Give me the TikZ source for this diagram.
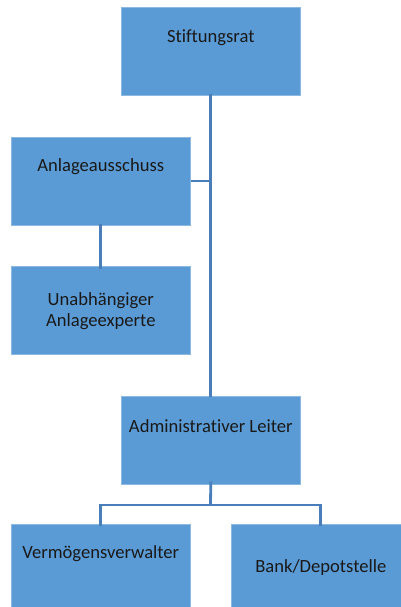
\documentclass[tikz,border=0pt]{standalone}
\usepackage{fontspec}
\setmainfont{Carlito}[Ligatures=NoCommon]
\usetikzlibrary{calc}
\definecolor{boxfill}{HTML}{5B9BD5}
\definecolor{linkcol}{HTML}{4A7EBB}
\begin{document}
\begin{tikzpicture}[x=1pt,y=-1pt,
  orgbox/.style={rectangle,fill=boxfill,draw=boxfill!70!white,line width=0.6pt,minimum width=179pt,minimum height=88pt,inner sep=0pt,anchor=north west},
  lbl/.style={font=\fontsize{18.6}{21}\selectfont,align=center,text=black!90,inner sep=0pt},
  link/.style={draw=linkcol,line width=2.8pt}]
\useasboundingbox (0,0) rectangle (401,607);
\clip (0,0) rectangle (401,607);
\node[orgbox] (sr) at (121,7) {};
\node[orgbox] (aa) at (11,137) {};
\node[orgbox] (ue) at (11,266) {};
\node[orgbox] (al) at (121,396) {};
\node[orgbox] (vv) at (11,524) {};
\node[orgbox] (bd) at (231,524) {};
\node[lbl] (tsr) at ($(sr.north)+(0,31)$) {Stiftungsrat};
\node[lbl] (taa) at ($(aa.north)+(0,30)$) {Anlageausschuss};
\node[lbl] (tue) at ($(ue.center)+(0,1)$) {Unabhängiger\\Anlageexperte};
\node[lbl] (tal) at ($(al.north)+(0,30)$) {Administrativer Leiter};
\node[lbl] (tvv) at ($(vv.north)+(0,30)$) {Vermögensverwalter};
\node[lbl] (tbd) at ($(bd.north)+(0,44)$) {Bank/Depotstelle};
\coordinate (j1) at (210.5,181);
\coordinate (j2) at (210.5,505);
\draw[link] ([yshift=2pt]sr.south) -- ([yshift=-1pt]al.north);
\draw[link] (aa.east |- j1) -- (j1);
\draw[link] ([yshift=2pt]aa.south) -- ([yshift=-3pt]ue.north);
\draw[link] ([yshift=3pt]al.south) -- (j2);
\draw[link] ([yshift=-2pt]vv.north) -- (vv.north |- j2) -- (bd.north |- j2) -- ([yshift=-2pt]bd.north);
\end{tikzpicture}
\end{document}
